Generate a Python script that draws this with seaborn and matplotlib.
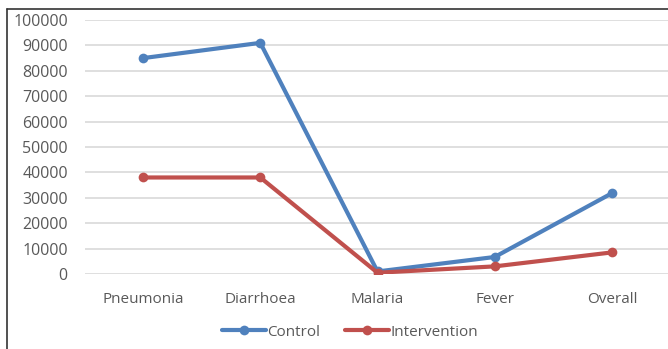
import matplotlib
matplotlib.use("Agg")
import matplotlib.pyplot as plt
from matplotlib.lines import Line2D
import seaborn as sns
import pandas as pd

categories = ["Pneumonia", "Diarrhoea", "Malaria", "Fever", "Overall"]
control = [85000, 91000, 1000, 6700, 31800]
intervention = [38000, 38000, 500, 3000, 8500]
yticks = [0, 10000, 20000, 30000, 40000, 50000, 60000, 70000, 80000, 90000, 100000]

df = pd.DataFrame({
    "category": categories * 2,
    "value": control + intervention,
    "group": ["Control"] * len(categories) + ["Intervention"] * len(categories),
})

sns.set_theme(style="white")
plt.rcParams["font.family"] = ["Open Sans", "DejaVu Sans"]

palette = {"Control": "#4F81BD", "Intervention": "#C0504D"}
text_color = "#595959"

fig = plt.figure(figsize=(6.68, 3.49), dpi=100)
ax = fig.add_axes([84.5 / 668, 1 - 274 / 349, 586 / 668, 254 / 349])

sns.lineplot(data=df, x="category", y="value", hue="group", palette=palette,
             marker="o", markersize=7, markeredgewidth=0, linewidth=3,
             sort=False, ax=ax, legend=False)

ax.set_xlim(-0.5, len(categories) - 0.5)
ax.set_ylim(0, 100000)
ax.set_yticks(yticks)
ax.set_yticklabels([str(v) for v in yticks])
ax.set_xlabel("")
ax.set_ylabel("")
ax.grid(axis="y", color="#d9d9d9", linewidth=1.2)
ax.set_axisbelow(True)
for s in ax.spines.values():
    s.set_visible(False)
ax.tick_params(axis="y", length=0, pad=12, labelsize=11.5, labelcolor=text_color)
ax.tick_params(axis="x", length=0, pad=13, labelsize=11, labelcolor=text_color)

handles = [Line2D([], [], color=palette[g], marker="o", markersize=7,
                  markeredgewidth=0, linewidth=3) for g in ["Control", "Intervention"]]
leg = fig.legend(handles, ["Control", "Intervention"], loc="center",
                 bbox_to_anchor=(350 / 668, 1 - 332 / 349), ncol=2, frameon=False,
                 fontsize=11, handlelength=2.9, handletextpad=0.1, columnspacing=1.6)
for t in leg.get_texts():
    t.set_color(text_color)

# outer frame (top and left edges)
fig.add_artist(Line2D([7 / 668, 7 / 668], [0, 1 - 9 / 349], transform=fig.transFigure,
                      color="#333333", linewidth=1.2))
fig.add_artist(Line2D([7 / 668, 1], [1 - 9 / 349, 1 - 9 / 349], transform=fig.transFigure,
                      color="#333333", linewidth=1.2))

fig.savefig("out.png", dpi=100)
